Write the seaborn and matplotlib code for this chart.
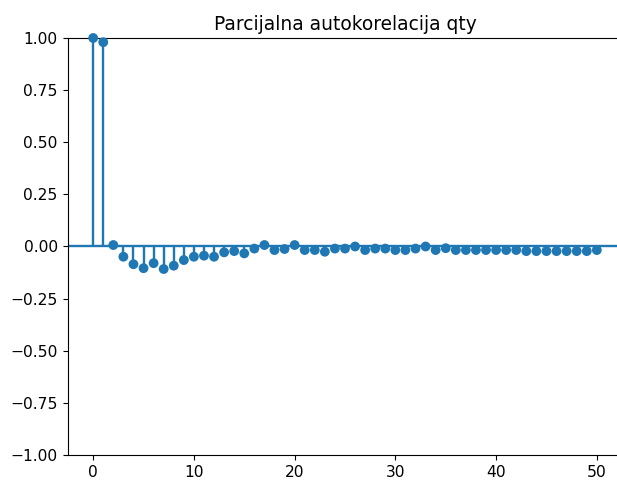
import matplotlib as mpl
import matplotlib.pyplot as plt
plt.switch_backend('Agg')
import seaborn as sns
import numpy as np
import pandas as pd

title = 'Parcijalna autokorelacija qty'
lags = list(range(0, 51))
pacf_vals = [1.0, 0.98, 0.007, -0.049, -0.085, -0.104, -0.080, -0.108, -0.092, -0.065,
             -0.049, -0.044, -0.049, -0.028, -0.022, -0.033, -0.010, 0.007, -0.017, -0.012,
             0.007, -0.017, -0.017, -0.025, -0.010, -0.010, 0.0, -0.017, -0.010, -0.010,
             -0.017, -0.017, -0.010, 0.0, -0.017, -0.008, -0.017, -0.017, -0.017, -0.017,
             -0.017, -0.017, -0.017, -0.022, -0.022, -0.022, -0.022, -0.022, -0.022, -0.022,
             -0.017]
y_ticks = [-1.0, -0.75, -0.5, -0.25, 0.0, 0.25, 0.5, 0.75, 1.0]

df = pd.DataFrame({'lag': lags, 'pacf': pacf_vals})

mpl.rc('font', size=11.2)
mpl.rc('xtick.major', size=3.9)
mpl.rc('ytick.major', size=3.9)

fig = plt.figure(figsize=(6.17, 4.83), dpi=100)
ax = fig.add_axes([68 / 617, 1 - 455 / 483, (622 - 68) / 617, (455 - 38) / 483])

ax.vlines(df['lag'], 0, df['pacf'], color='C0', linewidth=1.7)
ax.axhline(0, color='C0', linewidth=1.7)
sns.scatterplot(data=df, x='lag', y='pacf', ax=ax, color='C0', s=50,
                edgecolor='none', zorder=3, clip_on=False)
ax.set_xlim(-2.5, 52.5)
ax.set_ylim(-1.0, 1.0)
ax.set_yticks(y_ticks)
ax.set_yticklabels([f'{t:.2f}'.replace('-', '\u2212') for t in y_ticks])
ax.set_xticks([0, 10, 20, 30, 40, 50])
ax.set_xlabel('')
ax.set_ylabel('')
ax.set_title(title, fontsize=13.4)

fig.savefig('out.png', dpi=100)
